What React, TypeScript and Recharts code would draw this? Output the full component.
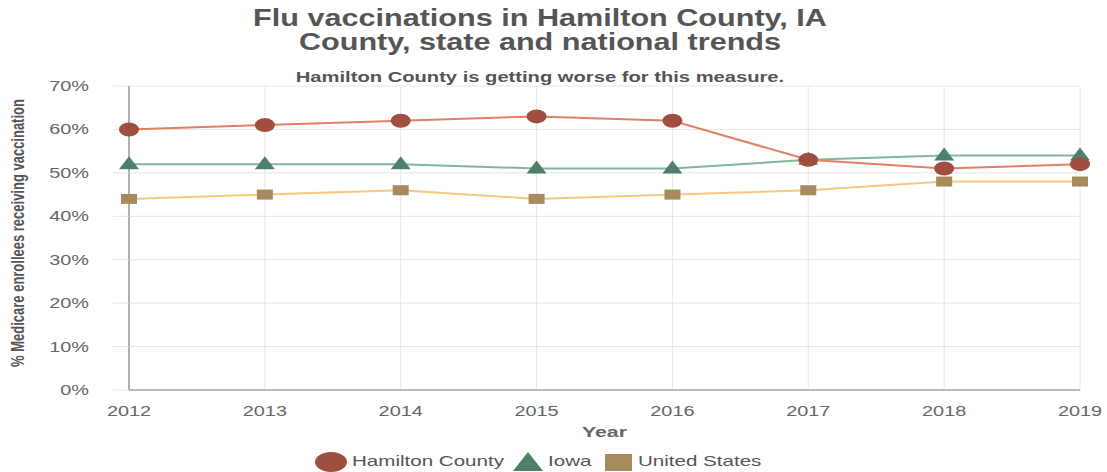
import React from 'react';
import { LineChart, Line, XAxis, YAxis, CartesianGrid } from 'recharts';

const years = ['2012', '2013', '2014', '2015', '2016', '2017', '2018', '2019'];
const hamilton = [60, 61, 62, 63, 62, 53, 51, 52];
const iowa = [52, 52, 52, 51, 51, 53, 54, 54];
const unitedStates = [44, 45, 46, 44, 45, 46, 48, 48];
const yTicks = [0, 10, 20, 30, 40, 50, 60, 70];

const data = years.map((y, i) => ({ year: y, hamilton: hamilton[i], iowa: iowa[i], us: unitedStates[i] }));

const C_HAM_LINE = '#e27f64';
const C_HAM_DOT = '#9f4f3f';
const C_IA_LINE = '#84b69d';
const C_IA_DOT = '#4f7f68';
const C_US_LINE = '#f5c882';
const C_US_DOT = '#a88b5c';

const SX = 1.42;
const font = 'Liberation Sans, Arial, sans-serif';

const Ellipse = (p: any) => <ellipse key={p.index} cx={p.cx} cy={p.cy} rx={10} ry={7} fill={C_HAM_DOT} />;
const Tri = (p: any) => (
  <path key={p.index} d={`M${p.cx},${p.cy - 8} L${p.cx + 10},${p.cy + 5} L${p.cx - 10},${p.cy + 5} Z`} fill={C_IA_DOT} />
);
const Sq = (p: any) => <rect key={p.index} x={p.cx - 8} y={p.cy - 5} width={16} height={10} fill={C_US_DOT} />;

const YTick = (p: any) => (
  <g transform={`translate(${p.x},${p.y}) scale(${SX},1)`}>
    <text x={0} y={0} dy="0.355em" textAnchor="end" fill="#666" fontSize={14} fontFamily={font}>{`${p.payload.value}%`}</text>
  </g>
);
const XTick = (p: any) => (
  <g transform={`translate(${p.x},${p.y}) scale(${SX},1)`}>
    <text x={0} y={0} dy="0.71em" textAnchor="middle" fill="#666" fontSize={14} fontFamily={font}>{p.payload.value}</text>
  </g>
);
const YearLabel = (p: any) => {
  const vb = p.viewBox || {};
  return (
    <g transform={`translate(${vb.x + vb.width / 2},${vb.y + vb.height - 3}) scale(${SX},1)`}>
      <text textAnchor="middle" fill="#666" fontWeight="bold" fontSize={15} fontFamily={font}>Year</text>
    </g>
  );
};
const YLabel = () => (
  <g transform={`translate(18,233) scale(${SX},1) rotate(-90)`}>
    <text x={0} y={0} dy="0.35em" textAnchor="middle" fill="#555" fontWeight="bold" fontSize={13} fontFamily={font}>
      % Medicare enrollees receiving vaccination
    </text>
  </g>
);

const legendText = (left: number, text: string) => (
  <span style={{ position: 'absolute', left, top: 451, fontSize: 15, lineHeight: '20px', color: '#555', whiteSpace: 'nowrap', transform: 'scaleX(1.37)', transformOrigin: '0 0' }}>
    {text}
  </span>
);

export default function App() {
  return (
    <div style={{ position: 'absolute', left: 0, top: 0, width: 1107, height: 472, fontFamily: font, background: '#fff', overflow: 'hidden' }}>
      <div style={{ position: 'absolute', left: 0, width: 1080, top: 6, textAlign: 'center', fontWeight: 'bold', fontSize: 23, color: '#555', lineHeight: '24px', transform: 'scaleX(1.33)', transformOrigin: '540px 0' }}>
        Flu vaccinations in Hamilton County, IA<br />County, state and national trends
      </div>
      <div style={{ position: 'absolute', left: 0, width: 1080, top: 69, textAlign: 'center', fontWeight: 'bold', fontSize: 14, color: '#555', transform: 'scaleX(1.44)', transformOrigin: '540px 0' }}>
        Hamilton County is getting worse for this measure.
      </div>
      <LineChart width={1107} height={472} data={data} margin={{ top: 86, right: 27, bottom: 32, left: 0 }}>
        <CartesianGrid stroke="#e6e6e6" strokeWidth={1} vertical={true} horizontal={true} />
        <XAxis
          dataKey="year"
          padding={{ left: 0, right: 0 }}
          axisLine={{ stroke: '#bbb', strokeWidth: 2 }}
          tickLine={false}
          tick={<XTick />}
          tickMargin={10}
          height={50}
          label={<YearLabel />}
        />
        <YAxis
          domain={[0, 70]}
          ticks={yTicks}
          width={129}
          axisLine={{ stroke: '#999', strokeWidth: 1.5 }}
          tickLine={{ stroke: '#e6e6e6' }}
          tickSize={16}
          tickMargin={24}
          tick={<YTick />}
          label={<YLabel />}
        />
        <Line dataKey="iowa" stroke={C_IA_LINE} strokeWidth={2} dot={Tri} activeDot={false} isAnimationActive={false} />
        <Line dataKey="us" stroke={C_US_LINE} strokeWidth={2} dot={Sq} activeDot={false} isAnimationActive={false} />
        <Line dataKey="hamilton" stroke={C_HAM_LINE} strokeWidth={2} dot={Ellipse} activeDot={false} isAnimationActive={false} />
      </LineChart>
      <svg style={{ position: 'absolute', left: 0, top: 440 }} width={1107} height={32}>
        <ellipse cx={331} cy={22} rx={16} ry={10} fill={C_HAM_DOT} />
        <path d="M528,12 L543,31 L513,31 Z" fill={C_IA_DOT} />
        <rect x={605} y={14} width={27} height={17} fill={C_US_DOT} />
      </svg>
      {legendText(352, 'Hamilton County')}
      {legendText(548, 'Iowa')}
      {legendText(638, 'United States')}
    </div>
  );
}
